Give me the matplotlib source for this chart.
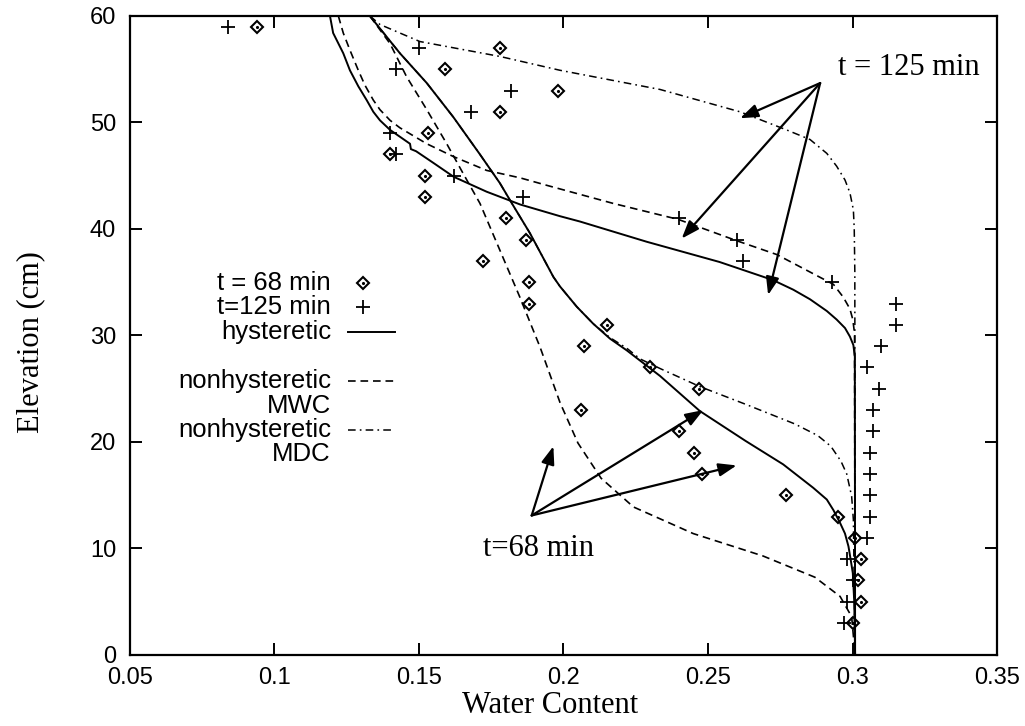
import matplotlib
matplotlib.use("Agg")
import matplotlib.pyplot as plt

plt.rcParams['lines.scale_dashes'] = False

# measured points, t = 68 min
d68_x = [0.094, 0.178, 0.159, 0.198, 0.178, 0.153, 0.140, 0.152, 0.152, 0.180,
         0.187, 0.172, 0.188, 0.188, 0.215, 0.207, 0.230, 0.247, 0.206, 0.240,
         0.245, 0.248, 0.277, 0.295, 0.301, 0.303, 0.302, 0.303, 0.300]
d68_y = [59, 57, 55, 53, 51, 49, 47, 45, 43, 41, 39, 37, 35, 33, 31, 29, 27, 25,
         23, 21, 19, 17, 15, 13, 11, 9, 7, 5, 3]

# measured points, t = 125 min
d125_x = [0.084, 0.150, 0.142, 0.182, 0.168, 0.140, 0.142, 0.162, 0.186, 0.240,
          0.260, 0.262, 0.293, 0.315, 0.315, 0.310, 0.305, 0.309, 0.307, 0.307,
          0.306, 0.306, 0.306, 0.306, 0.305, 0.298, 0.300, 0.298, 0.297]
d125_y = [59, 57, 55, 53, 51, 49, 47, 45, 43, 41, 39, 37, 35, 33, 31, 29, 27, 25,
          23, 21, 19, 17, 15, 13, 11, 9, 7, 5, 3]

# simulated profiles, t = 125 min
h125_x = [0.1192, 0.1203, 0.1238, 0.1261, 0.1290, 0.1319, 0.1342, 0.1365, 0.1400,
          0.1469, 0.1472, 0.1490, 0.1550, 0.1620, 0.1734, 0.1850, 0.1988, 0.2057,
          0.2288, 0.2540, 0.2725, 0.2795, 0.2853, 0.2911, 0.2945, 0.2974, 0.2991,
          0.3003, 0.3008, 0.3009]
h125_y = [60.0, 58.4, 56.5, 54.9, 53.4, 52.1, 51.0, 50.2, 49.3, 48.0, 47.5, 47.3,
          46.2, 44.9, 43.5, 42.3, 41.2, 40.7, 38.8, 36.9, 35.2, 34.3, 33.4, 32.3,
          31.5, 30.7, 29.9, 29.1, 28.0, 0.0]

w125_x = [0.1221, 0.1238, 0.1261, 0.1290, 0.1313, 0.1342, 0.1365, 0.1400, 0.1434,
          0.1527, 0.1619, 0.1734, 0.1850, 0.1942, 0.2172, 0.2397, 0.2599, 0.2738,
          0.2864, 0.2934, 0.2968, 0.2991, 0.3001, 0.3007, 0.3009]
w125_y = [60.0, 58.4, 56.8, 54.9, 53.5, 52.1, 51.2, 50.2, 49.5, 48.0, 46.8, 45.5,
          44.8, 44.1, 42.4, 40.9, 38.9, 37.6, 35.8, 34.8, 33.6, 32.5, 31.5, 30.2,
          0.0]

m125_x = [0.1330, 0.1365, 0.1503, 0.1780, 0.1988, 0.2334, 0.2611, 0.2772, 0.2853,
          0.2911, 0.2945, 0.2974, 0.2991, 0.3003, 0.3006, 0.3008, 0.3009]
m125_y = [60.0, 59.2, 57.6, 56.2, 54.9, 53.1, 51.0, 49.3, 48.4, 47.1, 45.9, 44.6,
          43.4, 41.8, 40.0, 36.0, 0.0]

# simulated profiles, t = 68 min
h68_x = [0.1330, 0.1434, 0.1527, 0.1619, 0.1711, 0.1780, 0.1826, 0.1884, 0.1965,
         0.1988, 0.2046, 0.2103, 0.2161, 0.2219, 0.2334, 0.2472, 0.2630, 0.2760,
         0.2864, 0.2911, 0.2934, 0.2957, 0.2974, 0.2986, 0.2994, 0.3001, 0.3006,
         0.3009]
h68_y = [60.0, 56.5, 53.7, 50.5, 47.0, 44.3, 42.2, 39.6, 35.5, 34.6, 32.7, 31.1,
         29.7, 28.6, 26.2, 22.9, 20.1, 17.9, 15.7, 14.6, 13.6, 12.4, 11.4, 10.2,
         8.9, 7.7, 5.0, 0.0]

w68_x = [0.1330, 0.1400, 0.1457, 0.1527, 0.1596, 0.1653, 0.1711, 0.1780, 0.1849,
         0.1919, 0.1988, 0.2050, 0.2130, 0.2242, 0.2449, 0.2690, 0.2870, 0.2957,
         0.2997, 0.3009]
w68_y = [60.0, 57.4, 54.3, 51.2, 48.0, 45.2, 42.4, 38.0, 33.6, 28.9, 23.7, 19.9,
         16.6, 13.9, 11.4, 9.3, 7.3, 5.5, 3.6, 0.0]

m68_x = [0.1330, 0.1434, 0.1527, 0.1619, 0.1711, 0.1780, 0.1826, 0.1884, 0.1965,
         0.1988, 0.2046, 0.2103, 0.2161, 0.2219, 0.2265, 0.2334, 0.2472, 0.2634,
         0.2800, 0.2880, 0.2925, 0.2960, 0.2980, 0.2997, 0.3003, 0.3009]
m68_y = [60.0, 56.5, 53.7, 50.5, 47.0, 44.3, 42.2, 39.6, 35.5, 34.6, 32.7, 31.1,
         29.8, 28.8, 27.8, 26.9, 25.2, 23.5, 21.7, 20.6, 19.6, 18.2, 17.0, 14.9,
         12.7, 0.0]

x_ticks = [0.05, 0.1, 0.15, 0.2, 0.25, 0.3, 0.35]
x_tick_labels = ["0.05", "0.1", "0.15", "0.2", "0.25", "0.3", "0.35"]
y_ticks = [0, 10, 20, 30, 40, 50, 60]

sans = "Liberation Sans"
serif = "Liberation Serif"
dash = (0, (5.5, 3.5))
dashdot = (0, (5.5, 3.0, 1.2, 3.0))
fs_key = 18.5

fig = plt.figure(figsize=(10.25, 7.26), dpi=100)
ax = fig.add_axes([0.1268, 0.0978, 0.8459, 0.8802])

ax.plot(h125_x, h125_y, color='black', lw=1.4)
ax.plot(w125_x, w125_y, color='black', lw=1.2, ls=dash)
ax.plot(m125_x, m125_y, color='black', lw=1.1, ls=dashdot)
ax.plot(h68_x, h68_y, color='black', lw=1.4)
ax.plot(w68_x, w68_y, color='black', lw=1.2, ls=dash)
ax.plot(m68_x, m68_y, color='black', lw=1.1, ls=dashdot)

ax.plot(d68_x, d68_y, ls='none', marker='D', ms=6.5, mfc='none', mec='black', mew=1.5)
ax.plot(d68_x, d68_y, ls='none', marker='.', ms=2.5, color='black')
ax.plot(d125_x, d125_y, ls='none', marker='+', ms=10, mec='black', mew=1.3)

# arrows
arrow_kw = dict(arrowstyle='-|>,head_length=0.6,head_width=0.22', color='black',
                lw=1.6, mutation_scale=18, shrinkA=0, shrinkB=0)
for tip in [(0.2611, 50.4), (0.2409, 39.1), (0.2708, 33.8)]:
    ax.annotate('', xy=tip, xytext=(0.2888, 53.7), arrowprops=arrow_kw)
for tip in [(0.1965, 19.6), (0.2484, 23.0), (0.2599, 17.8)]:
    ax.annotate('', xy=tip, xytext=(0.189, 13.1), arrowprops=arrow_kw)
ax.text(0.295, 55.2, "t = 125 min", family=serif, fontsize=22, va='center', ha='left')
ax.text(0.1722, 10.0, "t=68 min", family=serif, fontsize=22, va='center', ha='left')

# key
tx, lx0, lx1, mx = 0.2318, 0.2514, 0.3057, 0.269
T = ax.transAxes
ax.text(tx, 0.582, "t = 68 min", transform=T, ha='right', va='center', family=sans, fontsize=fs_key)
ax.plot([mx], [0.582], transform=T, marker='D', ms=6.5, mfc='none', mec='black', mew=1.5)
ax.plot([mx], [0.582], transform=T, marker='.', ms=2.5, color='black')
ax.text(tx, 0.544, "t=125 min", transform=T, ha='right', va='center', family=sans, fontsize=fs_key)
ax.plot([mx], [0.544], transform=T, marker='+', ms=10, mec='black', mew=1.3)
ax.text(tx, 0.5055, "hysteretic", transform=T, ha='right', va='center', family=sans, fontsize=fs_key)
ax.plot([lx0, lx1], [0.5055, 0.5055], transform=T, color='black', lw=1.4)
ax.text(tx, 0.4288, "nonhysteretic", transform=T, ha='right', va='center', family=sans, fontsize=fs_key)
ax.text(tx, 0.390, "MWC", transform=T, ha='right', va='center', family=sans, fontsize=fs_key)
ax.plot([lx0, lx1], [0.4288, 0.4288], transform=T, color='black', lw=1.2, ls=dash)
ax.text(tx, 0.352, "nonhysteretic", transform=T, ha='right', va='center', family=sans, fontsize=fs_key)
ax.text(tx, 0.3138, "MDC", transform=T, ha='right', va='center', family=sans, fontsize=fs_key)
ax.plot([lx0, lx1], [0.352, 0.352], transform=T, color='black', lw=1.1, ls=dashdot)

ax.set_xlim(0.05, 0.35)
ax.set_ylim(0, 60)
ax.set_xticks(x_ticks)
ax.set_xticklabels(x_tick_labels, family=sans, fontsize=17)
ax.set_yticks(y_ticks)
ax.set_yticklabels([str(v) for v in y_ticks], family=sans, fontsize=17)
ax.tick_params(direction='in', length=8.5, width=1.4, top=True, right=True)
ax.tick_params(axis='x', pad=9)
ax.tick_params(axis='y', pad=10)
for s in ax.spines.values():
    s.set_linewidth(1.6)

ax.set_xlabel("Water Content", family=serif, fontsize=22, va='baseline')
ax.set_ylabel("Elevation (cm)", family=serif, fontsize=22)
ax.xaxis.set_label_coords(0.485, -0.0908)
ax.yaxis.set_label_coords(-0.098, 0.49)

fig.savefig("out.png", dpi=100)
